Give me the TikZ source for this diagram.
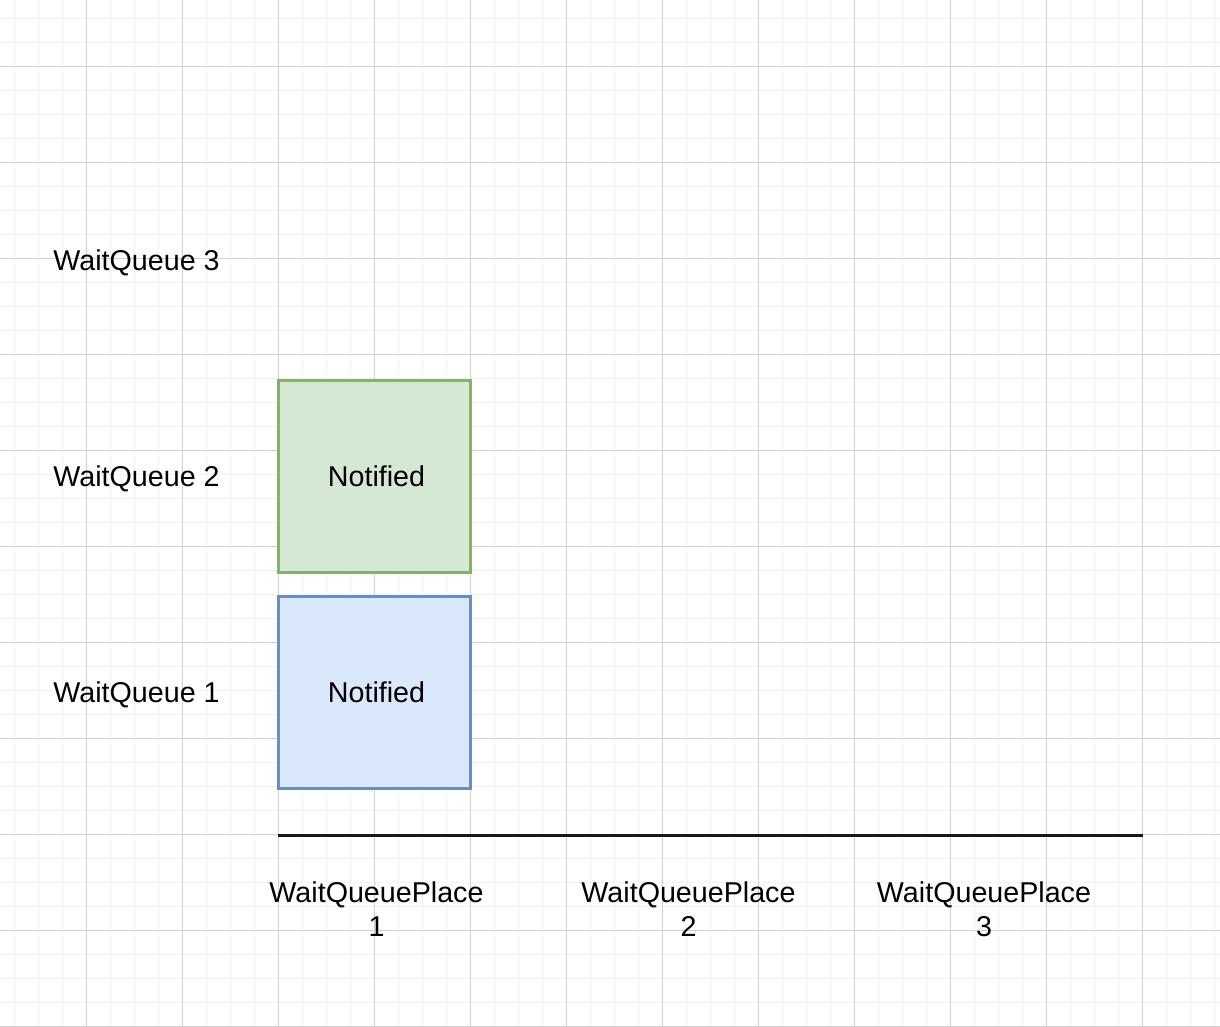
\documentclass[tikz,border=0pt]{standalone}
\usepackage{fontspec}
\setmainfont{Liberation Sans}
\definecolor{gridminor}{HTML}{F2F2F2}
\definecolor{gridmajor}{HTML}{D0D0D0}
\definecolor{greenfill}{HTML}{D5E8D4}
\definecolor{greenline}{HTML}{82B366}
\definecolor{bluefill}{HTML}{DAE8FC}
\definecolor{blueline}{HTML}{6C8EBF}
\tikzset{
  lbl/.style={font=\fontsize{21.5pt}{25.5pt}\selectfont, inner sep=0pt, anchor=base},
  placelbl/.style={font=\fontsize{21.5pt}{25.5pt}\selectfont, inner sep=0pt, align=center, anchor=north},
  greenbox/.style={draw=greenline, fill=greenfill, line width=1.6pt},
  bluebox/.style={draw=blueline, fill=bluefill, line width=1.6pt},
  axisline/.style={draw=black!90, line width=1.9pt}
}
\begin{document}
\begin{tikzpicture}[x=0.75pt,y=-0.75pt]
\useasboundingbox (0,0) rectangle (1220,1026);
\fill[white] (0,0) rectangle (1220,1026);
% minor grid
\foreach \x in {14,38,...,1220} \draw[gridminor, line width=0.75pt] (\x+0.5,0) -- (\x+0.5,1026);
\foreach \y in {18,42,...,1026} \draw[gridminor, line width=0.75pt] (0,\y+0.5) -- (1220,\y+0.5);
% major grid
\foreach \x in {86,182,...,1220} \draw[gridmajor, line width=0.75pt] (\x+0.5,0) -- (\x+0.5,1026);
\foreach \y in {66,162,...,1026} \draw[gridmajor, line width=0.75pt] (0,\y+0.5) -- (1220,\y+0.5);

% boxes
\draw[greenbox] (278.5,380.5) rectangle (470.5,572.5);
\draw[bluebox] (278.5,596.5) rectangle (470.5,788.5);
\node[lbl] (n2) at (376.5,486.5) {Notified};
\node[lbl] (n1) at (376.5,702.5) {Notified};

% row labels
\node[lbl] (q3) at (136.5,270.5) {WaitQueue 3};
\node[lbl] (q2) at (136.5,486.5) {WaitQueue 2};
\node[lbl] (q1) at (136.5,702.5) {WaitQueue 1};

% axis
\coordinate (axL) at (278,835.5);
\coordinate (axR) at (1142.5,835.5);
\draw[axisline] (axL) -- (axR);

% place labels
\node[placelbl] (p1) at (376.5,881.5) {WaitQueuePlace\\1};
\node[placelbl] (p2) at (688.5,881.5) {WaitQueuePlace\\2};
\node[placelbl] (p3) at (984,881.5) {WaitQueuePlace\\3};
\end{tikzpicture}
\end{document}
